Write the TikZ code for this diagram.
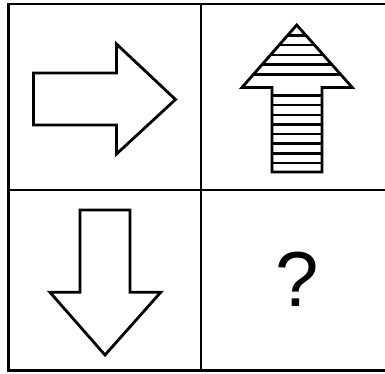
\documentclass[tikz,border=0pt]{standalone}
\usepackage{fontspec}
\setmainfont{Liberation Sans}
\begin{document}
\begin{tikzpicture}[x=1pt,y=-1pt,
  frame/.style={line width=2.7pt},
  arrowshape/.style={line width=2.8pt, line join=miter},
  stripe/.style={line width=2.5pt}]
\useasboundingbox (0,0) rectangle (385,373);
\fill[white] (0,0) rectangle (385,373);
\begin{scope}
\clip (0,0) rectangle (385,373);
\draw[frame] (8.5,4) rectangle (400,370.5);
\draw[frame] (201,4) -- (201,370.5);
\draw[frame] (8.5,190) -- (400,190);
\end{scope}
% right arrow
\draw[arrowshape] (33.5,73) -- (116.5,73) -- (116.5,44) -- (175.5,99.5) -- (116.5,154) -- (116.5,125) -- (33.5,125) -- cycle;
% up arrow (striped)
\def\uparrowpath{(296.7,25) -- (352.3,87.5) -- (322,87.5) -- (322,172) -- (272,172) -- (272,87.5) -- (242,87.5) -- cycle}
\begin{scope}
\clip \uparrowpath;
\foreach \yy in {35.5,45.2,54.9,64.6,74.3,95.5,105.1,114.8,124.4,134.1,143.7,153.4,163}
  \draw[stripe] (230,\yy) -- (365,\yy);
\end{scope}
\draw[arrowshape] \uparrowpath;
% down arrow
\draw[arrowshape] (80,210) -- (130,210) -- (130,292.3) -- (160.7,292.3) -- (105,355) -- (50,292.3) -- (80,292.3) -- cycle;
% question mark
\node[inner sep=0pt] (q) at (297,279) {\fontsize{78}{80}\selectfont ?};
\end{tikzpicture}
\end{document}
